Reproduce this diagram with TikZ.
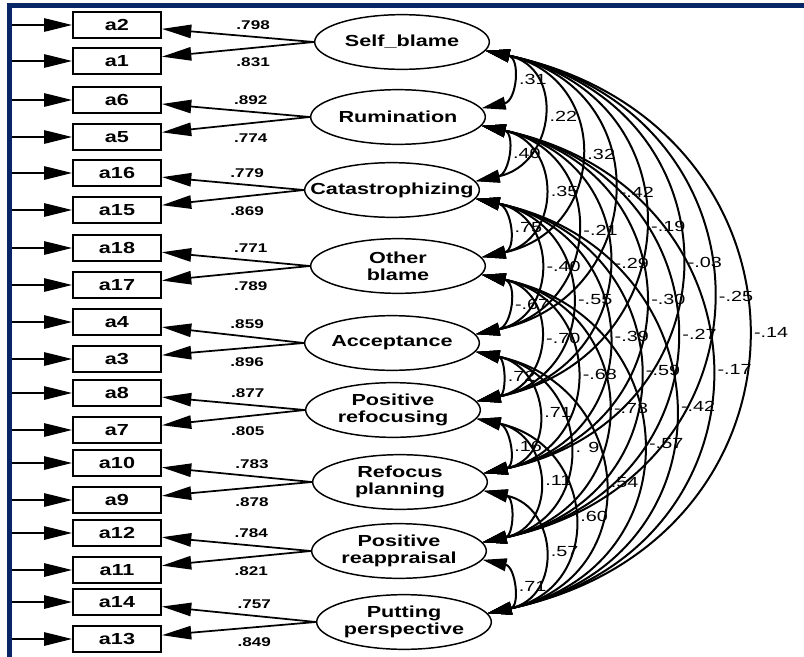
\documentclass[tikz,border=0pt]{standalone}
\usepackage{fontspec}
\setmainfont{Liberation Sans}[FakeStretch=1.35]
\usepackage{tikz}
\usetikzlibrary{arrows.meta,shapes.geometric}
\definecolor{framenavy}{RGB}{8,38,102}
\tikzset{
  semnode/.style = {align=center, inner sep=0pt, text centered},
  lat_v/.style = {semnode, ellipse, draw=black, line width=1.1pt,
    minimum width=131pt, minimum height=41pt,
    label={[semnode, font=\bfseries\fontsize{12}{12.5}\selectfont]center:#1}},% variable latente
  obs_v/.style = {semnode, rectangle, draw=black, line width=1.4pt,
    minimum width=66pt, minimum height=19.5pt,
    font=\bfseries\fontsize{12}{12}\selectfont},% variable observee
  err_a/.style = {line width=1.3pt, -{Triangle[length=21pt, width=10pt]}},% erreur
  load_a/.style = {line width=1.3pt, -{Triangle[length=22pt, width=10pt]}},% saturation
  cov_a/.style = {line width=1.5pt,
    {Triangle[length=18pt, width=9.5pt]}-{Triangle[length=18pt, width=9.5pt]}},% covariance
  load_l/.style = {semnode, font=\bfseries\fontsize{9.5}{9.5}\selectfont},
  cov_l/.style = {semnode, anchor=west, xshift=6pt, font=\fontsize{11}{11}\selectfont}
}
\begin{document}
\begin{tikzpicture}[x=0.75pt, y=0.75pt]
  \useasboundingbox (0,0) rectangle (804,-657);
  \fill[framenavy] (7,-3) rectangle (804,-8);
  \fill[framenavy] (7,-3) rectangle (12,-657);
  % facteurs
  \node[lat_v={Self\_blame}] (SB) at (402,-42) {};
  \node[lat_v={Rumination}] (RU) at (398,-117) {};
  \node[lat_v={Catastrophizing}] (CA) at (392,-190) {};
  \node[lat_v={Other\\blame}] (OB) at (398,-266) {};
  \node[lat_v={Acceptance}] (AC) at (392,-343) {};
  \node[lat_v={Positive\\refocusing}] (PF) at (393,-410) {};
  \node[lat_v={Refocus\\planning}] (RP) at (400,-482) {};
  \node[lat_v={Positive\\reappraisal}] (PR) at (399,-551) {};
  \node[lat_v={Putting\\perspective}] (PP) at (404,-622) {};
  % items et erreurs
  \foreach \it/\yy in {a2/25, a1/61, a6/100, a5/137, a16/173, a15/210,
      a18/248, a17/285, a4/322, a3/359, a8/393, a7/430, a10/463, a9/500,
      a12/533, a11/570, a14/602, a13/639}{
    \node[obs_v] (\it) at (117,-\yy) {\it};
    \coordinate (e\it) at (12,-\yy);
    \draw[err_a] (e\it) -- (\it);
  }
  % saturations
  \foreach \lv/\ia/\ib/\va/\vb in {SB/a2/a1/.798/.831, RU/a6/a5/.892/.774,
      CA/a16/a15/.779/.869, OB/a18/a17/.771/.789, AC/a4/a3/.859/.896,
      PF/a8/a7/.877/.805, RP/a10/a9/.783/.878, PR/a12/a11/.784/.821,
      PP/a14/a13/.757/.849}{
    \draw[load_a] (\lv.west) -- node[load_l, pos=.4, above=5pt] {\va} (\ia);
    \draw[load_a] (\lv.west) -- node[load_l, pos=.4, below=7pt] {\vb} (\ib);
  }
  % covariances
  \foreach \fu/\fv/\rr in {SB/RU/.31, RU/CA/.40, CA/OB/.75, OB/AC/-.67,
      AC/PF/.72, PF/RP/.16, RP/PR/{}, PR/PP/.71,
      SB/CA/.22, RU/OB/.35, CA/AC/-.40, OB/PF/-.70, AC/RP/.71, PF/PR/.11, RP/PP/.57,
      SB/OB/.32, RU/AC/-.21, CA/PF/-.55, OB/RP/-.68, AC/PR/. 9, PF/PP/.60,
      SB/AC/-.42, RU/PF/-.29, CA/RP/-.39, OB/PR/-.73, AC/PP/.54,
      SB/PF/-.19, RU/RP/-.30, CA/PR/-.59, OB/PP/-.57,
      SB/RP/-.03, RU/PR/-.27, CA/PP/-.42,
      SB/PR/-.25, RU/PP/-.17,
      SB/PP/-.14}{
    \draw[cov_a] (\fu.-6) to[out=-12, in=12, looseness=1.6]
      node[cov_l, midway] {\rr} (\fv.6);
  }
\end{tikzpicture}
\end{document}
